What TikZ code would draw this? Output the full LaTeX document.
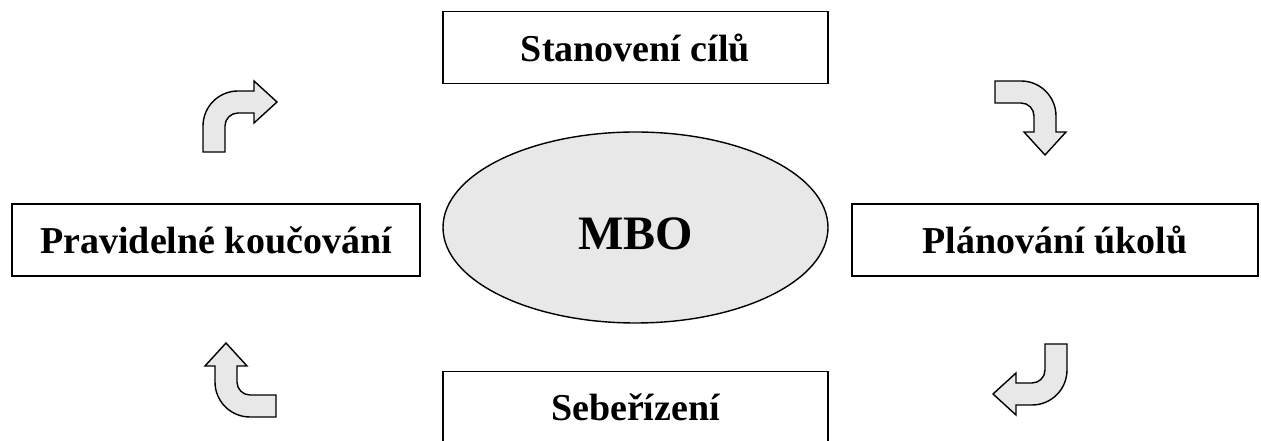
\documentclass[tikz,border=0pt]{standalone}
\usepackage{fontspec}
\setmainfont{Liberation Serif}
\usepackage{tikz}
\usetikzlibrary{shapes.geometric}

\definecolor{svetla}{RGB}{232,232,232}

\tikzset{
  krok/.style={draw, line width=1.6pt, minimum height=72pt, inner sep=0pt,
    font=\bfseries\fontsize{38}{44}\selectfont},
  sipka/.pic={
    \draw[line width=1.4pt, fill=svetla, line join=miter]
      (0,0) -- (0,26) arc[start angle=180, end angle=90, radius=35]
      -- (51,61) -- (51,71) -- (74,50) -- (51,29) -- (51,39) -- (35,39)
      arc[start angle=90, end angle=180, radius=13] -- (22,0) -- cycle;
  }
}

\begin{document}
\begin{tikzpicture}[x=1pt, y=1pt]
        \useasboundingbox (0,0) rectangle (1261,441);
        % stredni elipsa
        \node (mbo) at (635.5,213.5) [ellipse, draw, line width=1.4pt, fill=svetla,
          minimum width=385pt, minimum height=191pt, text height=44pt,
          font=\bfseries\fontsize{48}{56}\selectfont] {MBO};
        % ctyri kroky
        \node (cile) at (635.5,393.5) [krok, minimum width=385pt] {Stanovení cílů};
        \node (planovani) at (1055,201) [krok, minimum width=406pt] {Plánování úkolů};
        \node (rizeni) at (635.5,33.5) [krok, minimum width=385pt] {Sebeřízení};
        \node (koucovani) at (216,201) [krok, minimum width=408pt] {Pravidelné koučování};
        % sipky v kruhu
        \pic at (203,289) {sipka};
        \pic[rotate=-90] at (995,360) {sipka};
        \pic[rotate=180] at (1067,97) {sipka};
        \pic[rotate=90] at (276,24) {sipka};
    \end{tikzpicture}
\end{document}
